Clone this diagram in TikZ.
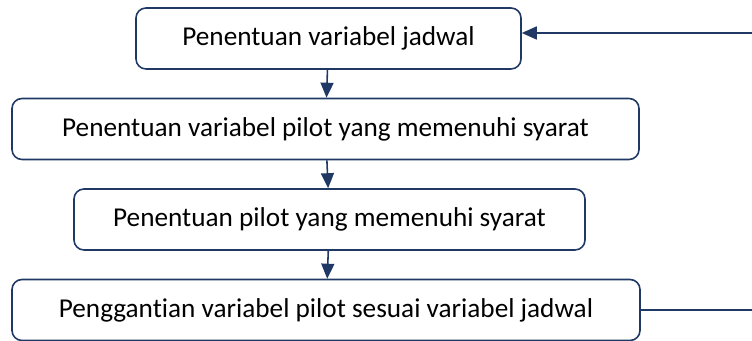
\documentclass[tikz,border=0pt]{standalone}
\usepackage{fontspec}
\setmainfont[Ligatures=NoCommon]{Carlito}
\usetikzlibrary{arrows.meta, positioning}

\definecolor{navy}{RGB}{31,56,100}

\begin{document}
\begin{tikzpicture}[node distance=1.81cm,
    stepbox/.style={draw=navy, line width=0.9pt, rounded corners=0.2cm,
        minimum height=1.22cm, inner sep=0pt, font=\fontsize{15.5}{19}\selectfont},
    flow/.style={draw=navy, line width=0.9pt, -{Triangle[length=0.3cm,width=0.26cm]}}]
            \useasboundingbox (0,0) rectangle (15.04,6.82);
            \node[stepbox, minimum width=7.7cm] (jadwal) at (6.57,6.05) {Penentuan variabel jadwal};
            \node[stepbox, minimum width=12.54cm] (varpilot) [below of=jadwal, xshift=-0.06cm] {Penentuan variabel pilot yang memenuhi syarat};
            \node[stepbox, minimum width=10.22cm] (pilot) [below of=varpilot, xshift=0.08cm] {Penentuan pilot yang memenuhi syarat};
            \node[stepbox, minimum width=12.56cm] (ganti) [below of=pilot, xshift=-0.07cm] {Penggantian variabel pilot sesuai variabel jadwal};
            \coordinate (fbin) at (15.04,6.16);
            \coordinate (fbout) at (15.04,0.62);
            \draw[flow] (jadwal) -- (varpilot);
            \draw[flow] (varpilot) -- (pilot);
            \draw[flow] (pilot) -- (ganti);
            \draw[draw=navy, line width=0.9pt] (ganti.east) -- (fbout);
            \draw[flow] (fbin) -- (fbin -| jadwal.east);
        \end{tikzpicture}
\end{document}
